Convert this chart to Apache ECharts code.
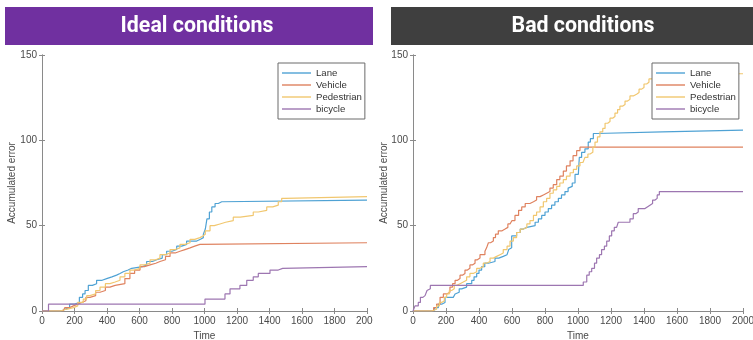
<!DOCTYPE html>
<html>
<head>
<meta charset="utf-8">
<script src="https://cdn.jsdelivr.net/npm/echarts@6/dist/echarts.min.js"></script>
<style>
html,body{margin:0;padding:0;background:#fff;overflow:hidden;width:753px;height:340px;}
#a{position:absolute;left:0;top:0;width:373px;height:340px;}
#b{position:absolute;left:373px;top:0;width:380px;height:340px;}
</style>
</head>
<body>
<div id="a"></div>
<div id="b"></div>
<script>
// ---------- data ----------
const seriesNames = ['Lane', 'Vehicle', 'Pedestrian', 'bicycle'];
const xTicks = [0, 200, 400, 600, 800, 1000, 1200, 1400, 1600, 1800, 2000];
const yTicks = [0, 50, 100, 150];

// Ideal conditions: [time, accumulated error]
const idealLane = [[0,0],[120,1],[140,2],[170,4],[200,5],[230,8],[250,10],[265,12],[285,15],[310,16],[336,18],[370,19],[398,20],[430,21],[459,22],[480,23],[500,24],[530,25],[552,26],[620,27],[644,29],[680,30],[706,31],[740,33],[767,35],[800,36],[829,38],[860,39],[890,41],[952,42],[975,43],[993,45],[1005,48],[1015,54],[1030,58],[1045,61],[1065,63],[1085,64],[1106,65],[2000,65]];
const idealVehicle = [[0,0],[130,1],[141,2],[170,3],[193,4],[220,5],[244,6],[270,8],[295,9],[330,11],[357,12],[390,14],[418,15],[450,16],[510,19],[541,22],[570,24],[603,26],[630,27],[665,28],[700,29],[726,30],[760,32],[788,34],[820,35],[849,36],[880,37],[911,38],[940,39],[972,40],[2000,40]];
const idealPedestrian = [[0,0],[111,1],[150,2],[193,3],[220,5],[254,7],[275,9],[295,10],[330,12],[357,14],[390,16],[418,17],[450,18],[480,20],[510,22],[541,24],[570,25],[603,27],[630,28],[665,30],[700,31],[726,33],[760,34],[788,36],[820,37],[849,39],[880,40],[911,42],[940,43],[972,44],[990,45],[1005,47],[1034,50],[1060,51],[1095,52],[1130,53],[1177,55],[1220,56],[1300,58],[1331,59],[1383,61],[1420,62],[1454,64],[1475,66],[1495,67],[2000,67]];
const idealBicycle = [[0,0],[40,4],[1003,7],[1126,10],[1157,13],[1218,15],[1260,18],[1300,20],[1331,22],[1403,24],[1454,25],[1481,26],[2000,26]];

// Bad conditions
const badLane = [[0,0],[125,1],[133,2],[154,4],[174,5],[194,8],[244,8],[255,10],[265,11],[280,13],[295,14],[325,16],[356,18],[370,20],[386,22],[400,24],[416,26],[435,28],[457,29],[497,31],[520,32],[547,33],[570,34],[580,36],[588,37],[598,44],[628,46],[650,48],[669,49],[690,50],[740,52],[760,54],[780,56],[800,58],[820,60],[840,62],[860,64],[881,66],[900,68],[921,70],[940,72],[952,73],[965,75],[982,80],[1002,81],[1008,90],[1022,93],[1042,95],[1062,99],[1075,101],[1093,104],[1113,105],[1510,106],[2000,106]];
const badVehicle = [[0,0],[125,2],[143,4],[164,8],[184,10],[204,11],[224,14],[240,16],[255,18],[270,19],[285,21],[300,22],[315,24],[330,25],[345,27],[360,28],[376,30],[390,31],[406,33],[436,35],[446,37],[457,40],[470,41],[487,43],[500,45],[517,47],[540,48],[558,49],[575,51],[588,52],[600,53],[618,56],[640,59],[659,61],[680,63],[709,64],[730,65],[749,67],[770,68],[790,69],[810,70],[830,72],[850,74],[871,77],[890,79],[911,82],[930,85],[952,88],[970,91],[992,94],[1012,96],[2000,96]];
const badPedestrian = [[0,0],[113,1],[143,3],[160,5],[174,6],[190,8],[204,10],[220,12],[234,13],[250,15],[265,16],[285,17],[305,18],[325,20],[345,22],[365,23],[386,25],[406,26],[426,28],[445,29],[467,31],[487,32],[507,33],[527,34],[547,36],[570,38],[588,41],[608,43],[628,46],[650,48],[669,49],[690,51],[709,53],[730,56],[749,58],[770,61],[790,64],[810,66],[830,69],[850,71],[871,73],[890,75],[911,77],[930,79],[952,81],[972,83],[992,85],[1012,87],[1030,88],[1042,90],[1060,92],[1073,93],[1090,96],[1103,99],[1118,102],[1133,105],[1150,107],[1164,110],[1180,111],[1194,113],[1210,114],[1224,116],[1240,118],[1254,120],[1270,121],[1285,123],[1300,124],[1315,126],[1335,127],[1355,128],[1370,130],[1386,131],[1400,133],[1416,134],[1430,136],[1446,137],[1467,139],[2000,139]];
const badBicycle = [[0,0],[5,1],[12,3],[32,5],[45,8],[60,9],[73,10],[85,12],[93,13],[105,15],[1012,15],[1032,17],[1053,21],[1068,23],[1083,25],[1100,28],[1113,31],[1130,33],[1143,36],[1160,38],[1174,41],[1190,44],[1204,47],[1220,49],[1234,50],[1244,52],[1295,52],[1315,54],[1335,57],[1350,58],[1365,60],[1406,61],[1420,62],[1436,63],[1452,65],[1467,66],[1480,68],[1493,70],[2000,70]];

// ---------- styling ----------
const colors = ['#4fa2d4', '#df825f', '#f1c76f', '#9d76b1'];
const FONT = '"Liberation Sans", Arial, sans-serif';
const axisGray = '#8a8a8a';
const labelGray = '#4a4a4a';

function buildOption(cfg) {
  const xMin = xTicks[0], xMax = xTicks[xTicks.length - 1];
  const yMin = yTicks[0], yMax = yTicks[yTicks.length - 1];
  const xInt = xTicks[1] - xTicks[0], yInt = yTicks[1] - yTicks[0];
  const common = {axisLine: {show: true, lineStyle: {color: axisGray, width: 1}}, splitLine: {show: false}};
  const plain = v => String(v);
  return {
    animation: false,
    color: colors,
    grid: {left: cfg.gridLeft, right: cfg.gridRight, top: 55, bottom: 29, containLabel: false, outerBoundsMode: 'none'},
    xAxis: [
      Object.assign({type: 'value', min: xMin, max: xMax, interval: xInt, position: 'bottom',
        name: 'Time', nameLocation: 'middle', nameGap: 20, nameMoveOverlap: false,
        nameTextStyle: {fontFamily: FONT, fontSize: 10, color: labelGray},
        axisTick: {inside: true, length: 3, lineStyle: {color: axisGray}},
        axisLabel: {formatter: plain, fontFamily: FONT, fontSize: 10, color: labelGray, margin: 5, hideOverlap: false, showMaxLabel: true, showMinLabel: true}}, common),
      Object.assign({type: 'value', min: xMin, max: xMax, interval: xInt, position: 'top',
        axisTick: {inside: true, length: 3, lineStyle: {color: axisGray}}, axisLabel: {show: false}}, common)
    ],
    yAxis: [
      Object.assign({type: 'value', min: yMin, max: yMax, interval: yInt, position: 'left',
        name: 'Accumulated error', nameLocation: 'middle', nameGap: cfg.nameGapY, nameMoveOverlap: false,
        nameTextStyle: {fontFamily: FONT, fontSize: 10, color: labelGray},
        axisTick: {inside: true, length: 3, lineStyle: {color: axisGray}},
        axisLabel: {formatter: plain, fontFamily: FONT, fontSize: 10, color: labelGray, margin: 5}}, common),
      Object.assign({type: 'value', min: yMin, max: yMax, interval: yInt, position: 'right',
        axisTick: {inside: true, length: 3, lineStyle: {color: axisGray}}, axisLabel: {show: false}}, common)
    ],
    legend: {
      orient: 'vertical', left: cfg.legendLeft, top: 63,
      data: seriesNames,
      icon: 'rect', itemWidth: 29, itemHeight: 1.4, itemGap: 2,
      padding: [5, 3, 5, 4],
      borderColor: '#6b6b6b', borderWidth: 1, backgroundColor: '#fff',
      textStyle: {fontFamily: FONT, fontSize: 9.6, color: '#333'}
    },
    graphic: [
      {type: 'rect', shape: {x: cfg.barX, y: 7, width: cfg.barW, height: 38}, style: {fill: cfg.barColor}, z: 10},
      {type: 'text', x: cfg.titleX, y: 26, scaleX: 0.97, z: 11,
        style: {text: cfg.title, x: 0, y: 0, align: 'center', verticalAlign: 'middle',
          fill: '#ffffff', font: 'bold 22px Roboto, "Open Sans", sans-serif'}}
    ],
    series: cfg.data.map((d, i) => ({
      name: seriesNames[i], type: 'line', step: 'end', data: d,
      showSymbol: false, symbol: 'none',
      lineStyle: {width: 1.2, color: colors[i]}, itemStyle: {color: colors[i]},
      xAxisIndex: 0, yAxisIndex: 0
    }))
  };
}

const chartA = echarts.init(document.getElementById('a'), null, {renderer: 'canvas'});
chartA.setOption(buildOption({
  gridLeft: 42, gridRight: 6, legendLeft: 278, nameGapY: 25,
  barX: 5, barW: 368, barColor: '#7030a0', titleX: 197, title: 'Ideal conditions',
  data: [idealLane, idealVehicle, idealPedestrian, idealBicycle]
}));

const chartB = echarts.init(document.getElementById('b'), null, {renderer: 'canvas'});
chartB.setOption(buildOption({
  gridLeft: 40, gridRight: 10, legendLeft: 279, nameGapY: 24,
  barX: 18, barW: 362, barColor: '#3f3f3f', titleX: 210, title: 'Bad conditions',
  data: [badLane, badVehicle, badPedestrian, badBicycle]
}));
</script>
</body>
</html>
